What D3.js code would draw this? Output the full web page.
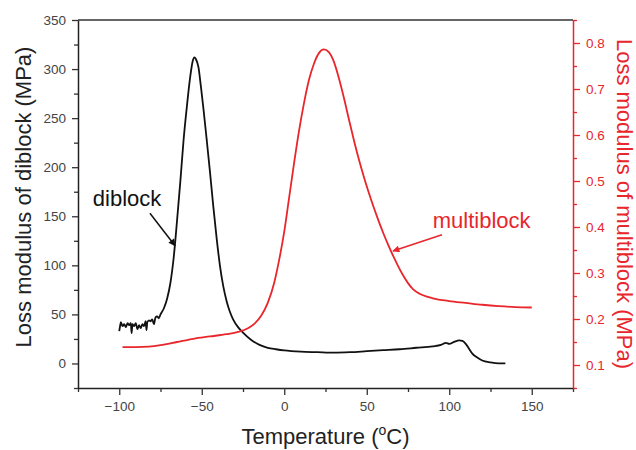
<!DOCTYPE html>
<html>
<head>
<meta charset="utf-8">
<script src="https://cdn.jsdelivr.net/npm/d3@7/dist/d3.min.js"></script>
<style>
  body { margin: 0; background: #fff; }
  svg text { font-family: "Liberation Sans", Arial, sans-serif; }
</style>
</head>
<body>
<div id="chart"></div>
<script>
// diblock loss modulus (MPa, left axis)
var diblockTemp = [-100, -99.5, -99, -98, -97, -96, -95, -94, -93, -92.5, -92, -91, -90, -89, -88, -87, -86, -85, -84, -83.5, -83,
  -82, -81, -80, -79, -78, -77, -76, -75, -73, -71, -69, -67, -65, -63, -61, -59, -57, -55.5, -54.5, -53.5, -52, -50.5,
  -49, -47, -45, -43, -41, -39, -37, -35, -33, -31, -28, -25, -20, -15, -10, -5, 0, 10, 20, 30, 40, 50, 60, 70, 80, 90,
  95, 98, 100, 103, 106, 108, 110, 112, 114, 117, 120, 125, 130, 134];
var diblockLoss = [33, 38, 42, 38, 40, 37, 41, 39, 41, 31, 40, 38, 41, 35, 39, 36, 40, 38, 43, 34, 42,
  44, 43, 45, 40, 47, 48, 46, 50, 56, 66, 82, 108, 145, 185, 228, 262, 292, 308, 312, 310, 302, 282,
  260, 228, 195, 160, 128, 100, 79, 64, 53, 45, 37, 31.5, 24, 19, 16, 14.5, 13.3, 12, 11.5, 11, 11.5, 12.5, 13.5, 14.5, 16, 17.5,
  19, 21, 20, 22, 23.5, 23, 20, 15, 10, 6, 3, 1, 0, 0];

// multiblock loss modulus (MPa, right axis)
var multiTemp = [-98, -90, -82, -75, -65, -55, -45, -35, -28, -22, -18, -14, -10, -6, -3, 0, 3, 6, 9, 12, 15, 18, 21, 24,
  27, 30, 33, 36, 39, 42, 45, 48, 51, 54, 57, 60, 63, 66, 69, 72, 75, 78, 82, 86, 90, 100, 110, 120, 130, 140, 150];
var multiLoss = [0.139, 0.139, 0.14, 0.143, 0.15, 0.157, 0.162, 0.167, 0.172, 0.18, 0.19, 0.207, 0.235, 0.28, 0.33, 0.39,
  0.465, 0.54, 0.61, 0.67, 0.72, 0.755, 0.778, 0.786, 0.78, 0.76, 0.725, 0.683, 0.637, 0.592, 0.55, 0.512, 0.477, 0.445,
  0.415, 0.387, 0.361, 0.337, 0.315, 0.295, 0.278, 0.265, 0.255, 0.249, 0.245, 0.239, 0.235, 0.231, 0.228, 0.226, 0.225];

var xTicks = [-100, -50, 0, 50, 100, 150];
var yLeftTicks = [0, 50, 100, 150, 200, 250, 300, 350];
var yRightTicks = [0.1, 0.2, 0.3, 0.4, 0.5, 0.6, 0.7, 0.8];

var red = '#e8262b';
var width = 636, height = 450;
var margin = {top: 20, right: 63, bottom: 62, left: 78};

var svg = d3.select('#chart').append('svg')
    .attr('width', width)
    .attr('height', height);

var x = d3.scaleLinear().domain([-125, 175]).range([margin.left, width - margin.right]);
var yL = d3.scaleLinear().domain([-25, 350]).range([height - margin.bottom, margin.top]);
var yR = d3.scaleLinear().domain([0.05, 0.85]).range([height - margin.bottom, margin.top]);

var x0 = margin.left, x1 = width - margin.right, yTop = margin.top, yBot = height - margin.bottom;

// top frame line
svg.append('line')
    .attr('x1', x0).attr('x2', x1).attr('y1', yTop).attr('y2', yTop)
    .attr('stroke', '#333').attr('stroke-width', 1.5);

// minor ticks
svg.append('g')
    .attr('transform', `translate(0,${yBot})`)
    .call(d3.axisBottom(x).tickValues(d3.range(-125, 176, 50)).tickSize(4).tickFormat(''))
    .call(g => g.select('.domain').remove())
    .selectAll('line').attr('stroke', '#333').attr('stroke-width', 1.3);
svg.append('g')
    .attr('transform', `translate(${x0},0)`)
    .call(d3.axisLeft(yL).tickValues(d3.range(-25, 351, 50)).tickSize(4).tickFormat(''))
    .call(g => g.select('.domain').remove())
    .selectAll('line').attr('stroke', '#333').attr('stroke-width', 1.3);
svg.append('g')
    .attr('transform', `translate(${x1},0)`)
    .call(d3.axisRight(yR).tickValues(d3.range(0.05, 0.86, 0.1)).tickSize(4).tickFormat(''))
    .call(g => g.select('.domain').remove())
    .selectAll('line').attr('stroke', red).attr('stroke-width', 1.3);

// X axis
var gx = svg.append('g')
    .attr('transform', `translate(0,${yBot})`)
    .call(d3.axisBottom(x).tickValues(xTicks).tickSize(7).tickSizeOuter(0).tickPadding(6));
gx.select('.domain').attr('stroke', '#222').attr('stroke-width', 1.5);
gx.selectAll('line').attr('stroke', '#333').attr('stroke-width', 1.3);
gx.selectAll('text').attr('font-size', 13.5).attr('fill', '#444');

// left Y axis
var gl = svg.append('g')
    .attr('transform', `translate(${x0},0)`)
    .call(d3.axisLeft(yL).tickValues(yLeftTicks).tickSize(6).tickSizeOuter(0).tickPadding(6));
gl.select('.domain').attr('stroke', '#222').attr('stroke-width', 1.5);
gl.selectAll('line').attr('stroke', '#333').attr('stroke-width', 1.3);
gl.selectAll('text').attr('font-size', 13.5).attr('fill', '#444');

// right Y axis
var gr = svg.append('g')
    .attr('transform', `translate(${x1},0)`)
    .call(d3.axisRight(yR).tickValues(yRightTicks).tickSize(7).tickSizeOuter(0).tickPadding(6).tickFormat(d3.format('.1f')));
gr.select('.domain').attr('stroke', red).attr('stroke-width', 1.5);
gr.selectAll('line').attr('stroke', red).attr('stroke-width', 1.3);
gr.selectAll('text').attr('font-size', 13.5).attr('fill', red);

// curves
var diblock = diblockTemp.map((t, i) => [t, diblockLoss[i]]);
var multi = multiTemp.map((t, i) => [t, multiLoss[i]]);

svg.append('path')
    .datum(diblock)
    .attr('fill', 'none')
    .attr('stroke', '#111')
    .attr('stroke-width', 1.8)
    .attr('stroke-linejoin', 'round')
    .attr('d', d3.line().x(d => x(d[0])).y(d => yL(d[1])).curve(d3.curveMonotoneX));

svg.append('path')
    .datum(multi)
    .attr('fill', 'none')
    .attr('stroke', red)
    .attr('stroke-width', 1.8)
    .attr('d', d3.line().x(d => x(d[0])).y(d => yR(d[1])).curve(d3.curveMonotoneX));

// arrowheads
var defs = svg.append('defs');
[['arrowBlack', '#111'], ['arrowRed', red]].forEach(function (m) {
  defs.append('marker')
      .attr('id', m[0])
      .attr('viewBox', '0 0 10 10')
      .attr('refX', 9).attr('refY', 5)
      .attr('markerWidth', 9).attr('markerHeight', 7)
      .attr('markerUnits', 'userSpaceOnUse')
      .attr('orient', 'auto')
      .append('path').attr('d', 'M0,0 L10,5 L0,10 Z').attr('fill', m[1]);
});

// annotations
svg.append('text')
    .attr('x', x(-116)).attr('y', yL(160))
    .attr('font-size', 22).attr('fill', '#111')
    .text('diblock');
svg.append('line')
    .attr('x1', x(-81.4)).attr('y1', yL(153)).attr('x2', x(-66.2)).attr('y2', yL(120))
    .attr('stroke', '#111').attr('stroke-width', 1.5)
    .attr('marker-end', 'url(#arrowBlack)');

svg.append('text')
    .attr('x', x(90)).attr('y', yR(0.398))
    .attr('font-size', 22).attr('fill', red)
    .text('multiblock');
svg.append('line')
    .attr('x1', x(95.6)).attr('y1', yR(0.383)).attr('x2', x(65.9)).attr('y2', yR(0.348))
    .attr('stroke', red).attr('stroke-width', 1.5)
    .attr('marker-end', 'url(#arrowRed)');

// axis titles
var tx = svg.append('text')
    .attr('x', (x0 + x1) / 2).attr('y', 444)
    .attr('text-anchor', 'middle')
    .attr('font-size', 22).attr('fill', '#222');
tx.append('tspan').text('Temperature (');
tx.append('tspan').attr('font-size', 14).attr('dy', -9).text('o');
tx.append('tspan').attr('dy', 9).text('C)');

svg.append('text')
    .attr('transform', 'translate(31,197) rotate(-90)')
    .attr('text-anchor', 'middle')
    .attr('font-size', 22).attr('fill', '#222')
    .text('Loss modulus of diblock (MPa)');

svg.append('text')
    .attr('transform', 'translate(617,204) rotate(90)')
    .attr('text-anchor', 'middle')
    .attr('font-size', 22).attr('fill', red)
    .text('Loss modulus of multiblock (MPa)');
</script>
</body>
</html>
